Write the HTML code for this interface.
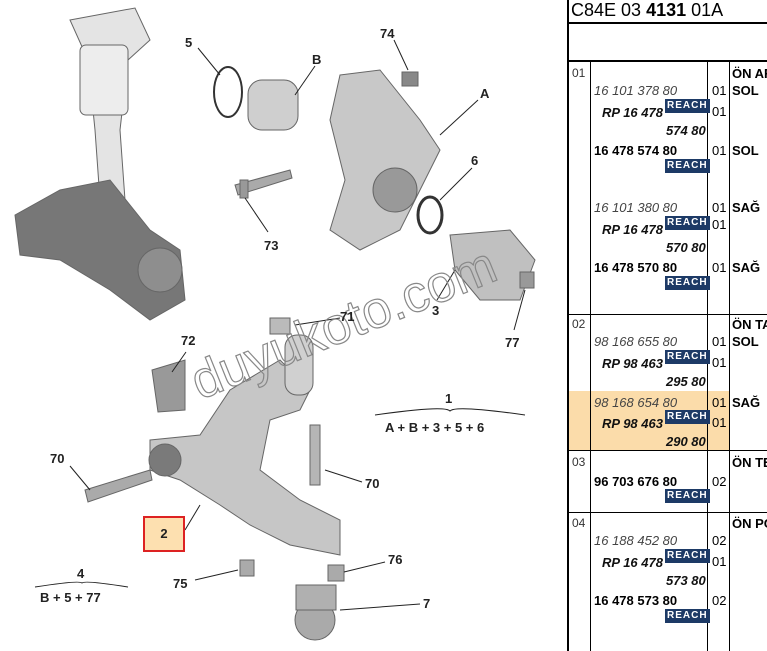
<!DOCTYPE html>
<html><head><meta charset="utf-8"><style>
body{margin:0;width:767px;height:651px;background:#fff;position:relative;overflow:hidden;font-family:"Liberation Sans",Arial,sans-serif}
.a{position:absolute;white-space:nowrap}
.l{font-weight:bold;font-size:13px;color:#222}
.t{font-size:13px;color:#000}
.i{font-style:italic;color:#444}
.bi{font-style:italic;font-weight:bold;color:#111}
.b{font-weight:bold}
.r{position:absolute;background:#1d3a66;color:#fff;font-weight:bold;font-size:10px;letter-spacing:1px;padding:1px 2px;line-height:12px}
.h{position:absolute;background:#000}
</style></head><body>
<svg class="a" style="left:0;top:0" width="560" height="651">
<g fill="#9a9a9a" stroke="#666" stroke-width="1">
<path d="M70 20 L135 8 L150 40 L128 60 L120 130 L125 200 L100 200 L95 130 L88 60 Z" fill="#e4e4e4"/>
<rect x="80" y="45" width="48" height="70" rx="6" fill="#ededed"/>
<path d="M15 215 L60 190 L110 180 L150 230 L180 250 L185 300 L150 320 L110 290 L60 260 L20 255 Z" fill="#777"/>
<circle cx="160" cy="270" r="22" fill="#8e8e8e"/>
<rect x="248" y="80" width="50" height="50" rx="14" fill="#cfcfcf"/>
<path d="M340 75 L380 70 L420 120 L440 150 L420 190 L400 230 L360 250 L330 230 L345 180 L330 120 Z" fill="#c8c8c8"/>
<circle cx="395" cy="190" r="22" fill="#999"/>
<ellipse cx="430" cy="215" rx="12" ry="18" fill="none" stroke="#333" stroke-width="3"/>
<path d="M450 235 L510 230 L535 260 L520 300 L480 300 L455 270 Z" fill="#c0c0c0"/>
<ellipse cx="228" cy="92" rx="14" ry="25" fill="none" stroke="#333" stroke-width="2"/>
<rect x="402" y="72" width="16" height="14" fill="#888"/>
<path d="M235 185 L290 170 L292 178 L238 195 Z" fill="#aaa"/>
<path d="M150 440 L200 435 L230 390 L280 360 L310 390 L300 410 L270 420 L260 470 L300 500 L340 520 L340 555 L290 545 L250 525 L220 505 L180 480 L150 470 Z" fill="#c6c6c6"/>
<circle cx="165" cy="460" r="16" fill="#7a7a7a"/>
<rect x="285" y="335" width="28" height="60" rx="12" fill="#d0d0d0"/>
<path d="M152 370 L185 360 L185 410 L158 412 Z" fill="#999"/>
<path d="M85 490 L150 470 L152 480 L88 502 Z" fill="#aaa"/>
<rect x="310" y="425" width="10" height="60" fill="#b5b5b5"/>
<circle cx="315" cy="620" r="20" fill="#aaa"/>
<rect x="296" y="585" width="40" height="25" fill="#b0b0b0"/>
<rect x="240" y="560" width="14" height="16" fill="#aaa"/>
<rect x="328" y="565" width="16" height="16" fill="#aaa"/>
<rect x="270" y="318" width="20" height="16" fill="#bbb"/>
<rect x="240" y="180" width="8" height="18" fill="#999"/>
<rect x="520" y="272" width="14" height="16" fill="#999"/>
</g>
<g stroke="#222" stroke-width="1" fill="none">
<line x1="198" y1="48" x2="220" y2="75"/><line x1="315" y1="66" x2="295" y2="95"/>
<line x1="394" y1="40" x2="408" y2="70"/><line x1="478" y1="100" x2="440" y2="135"/>
<line x1="472" y1="168" x2="440" y2="200"/><line x1="268" y1="232" x2="245" y2="198"/>
<line x1="437" y1="300" x2="455" y2="270"/><line x1="514" y1="330" x2="525" y2="290"/>
<line x1="340" y1="318" x2="295" y2="325"/><line x1="186" y1="352" x2="172" y2="372"/>
<line x1="70" y1="466" x2="90" y2="490"/><line x1="362" y1="482" x2="325" y2="470"/>
<line x1="185" y1="530" x2="200" y2="505"/><line x1="385" y1="562" x2="344" y2="572"/>
<line x1="195" y1="580" x2="238" y2="570"/><line x1="420" y1="604" x2="340" y2="610"/>
<path d="M375 415 Q445 405 450 411 Q455 405 525 415"/>
<path d="M35 587 Q80 580 82 583 Q84 580 128 587"/>
</g>
<text x="200" y="400" transform="rotate(-22 200 400)" font-size="52" fill="none" stroke="#888" stroke-width="1.2" font-family="Liberation Sans">duyukoto.com</text>
</svg>
<div class="a l" style="left:185px;top:35px">5</div>
<div class="a l" style="left:312px;top:52px">B</div>
<div class="a l" style="left:380px;top:26px">74</div>
<div class="a l" style="left:480px;top:86px">A</div>
<div class="a l" style="left:471px;top:153px">6</div>
<div class="a l" style="left:264px;top:238px">73</div>
<div class="a l" style="left:432px;top:303px">3</div>
<div class="a l" style="left:505px;top:335px">77</div>
<div class="a l" style="left:340px;top:309px">71</div>
<div class="a l" style="left:181px;top:333px">72</div>
<div class="a l" style="left:445px;top:391px">1</div>
<div class="a l" style="left:385px;top:420px">A + B + 3 + 5 + 6</div>
<div class="a l" style="left:50px;top:451px">70</div>
<div class="a l" style="left:365px;top:476px">70</div>
<div class="a l" style="left:143px;top:516px;width:38px;height:32px;border:2px solid #d22;background:#fde0b0;text-align:center;line-height:32px">2</div>
<div class="a l" style="left:388px;top:552px">76</div>
<div class="a l" style="left:77px;top:566px">4</div>
<div class="a l" style="left:40px;top:590px">B + 5 + 77</div>
<div class="a l" style="left:173px;top:576px">75</div>
<div class="a l" style="left:423px;top:596px">7</div>

<div class="a" style="left:567px;top:0;width:200px;height:651px">
<div class="a" style="left:0;top:391px;width:163px;height:59px;background:#fbdcaa"></div>
<div class="h" style="left:0;top:0;width:2px;height:651px"></div>
<div class="h" style="left:0;top:22px;width:200px;height:2px"></div>
<div class="h" style="left:0;top:60px;width:200px;height:2px"></div>
<div class="h" style="left:23px;top:62px;width:1px;height:589px"></div>
<div class="h" style="left:140px;top:62px;width:1px;height:589px"></div>
<div class="h" style="left:162px;top:62px;width:1px;height:589px"></div>
<div class="h" style="left:0;top:314px;width:200px;height:1px"></div>
<div class="h" style="left:0;top:450px;width:200px;height:1px"></div>
<div class="h" style="left:0;top:512px;width:200px;height:1px"></div>
<div class="a" style="left:4px;top:0;font-size:18px">C84E 03 <b>4131</b> 01A</div>
</div>
<div class="a t" style="left:0;top:0;width:767px">
<span class="a" style="left:572px;top:66px;font-size:12px;color:#333">01</span>
<span class="a b" style="left:732px;top:66px">ÖN AR</span>
<span class="a i" style="left:594px;top:83px">16 101 378 80</span><span class="a" style="left:712px;top:83px">01</span><span class="a b" style="left:732px;top:83px">SOL</span>
<span class="a bi" style="left:602px;top:105px">RP 16 478</span><span class="r" style="left:665px;top:99px">REACH</span><span class="a" style="left:712px;top:104px">01</span>
<span class="a bi" style="left:666px;top:123px">574 80</span>
<span class="a b" style="left:594px;top:143px">16 478 574 80</span><span class="a" style="left:712px;top:143px">01</span><span class="a b" style="left:732px;top:143px">SOL</span>
<span class="r" style="left:665px;top:159px">REACH</span>
<span class="a i" style="left:594px;top:200px">16 101 380 80</span><span class="a" style="left:712px;top:200px">01</span><span class="a b" style="left:732px;top:200px">SAĞ</span>
<span class="a bi" style="left:602px;top:222px">RP 16 478</span><span class="r" style="left:665px;top:216px">REACH</span><span class="a" style="left:712px;top:217px">01</span>
<span class="a bi" style="left:666px;top:240px">570 80</span>
<span class="a b" style="left:594px;top:260px">16 478 570 80</span><span class="a" style="left:712px;top:260px">01</span><span class="a b" style="left:732px;top:260px">SAĞ</span>
<span class="r" style="left:665px;top:276px">REACH</span>
<span class="a" style="left:572px;top:317px;font-size:12px;color:#333">02</span><span class="a b" style="left:732px;top:317px">ÖN TA</span>
<span class="a i" style="left:594px;top:334px">98 168 655 80</span><span class="a" style="left:712px;top:334px">01</span><span class="a b" style="left:732px;top:334px">SOL</span>
<span class="a bi" style="left:602px;top:356px">RP 98 463</span><span class="r" style="left:665px;top:350px">REACH</span><span class="a" style="left:712px;top:355px">01</span>
<span class="a bi" style="left:666px;top:374px">295 80</span>
<span class="a i" style="left:594px;top:395px">98 168 654 80</span><span class="a" style="left:712px;top:395px">01</span><span class="a b" style="left:732px;top:395px">SAĞ</span>
<span class="a bi" style="left:602px;top:416px">RP 98 463</span><span class="r" style="left:665px;top:410px">REACH</span><span class="a" style="left:712px;top:415px">01</span>
<span class="a bi" style="left:666px;top:434px">290 80</span>
<span class="a" style="left:572px;top:455px;font-size:12px;color:#333">03</span><span class="a b" style="left:732px;top:455px">ÖN TE</span>
<span class="a b" style="left:594px;top:474px">96 703 676 80</span><span class="a" style="left:712px;top:474px">02</span>
<span class="r" style="left:665px;top:489px">REACH</span>
<span class="a" style="left:572px;top:516px;font-size:12px;color:#333">04</span><span class="a b" style="left:732px;top:516px">ÖN PO</span>
<span class="a i" style="left:594px;top:533px">16 188 452 80</span><span class="a" style="left:712px;top:533px">02</span>
<span class="a bi" style="left:602px;top:555px">RP 16 478</span><span class="r" style="left:665px;top:549px">REACH</span><span class="a" style="left:712px;top:554px">01</span>
<span class="a bi" style="left:666px;top:573px">573 80</span>
<span class="a b" style="left:594px;top:593px">16 478 573 80</span><span class="a" style="left:712px;top:593px">02</span>
<span class="r" style="left:665px;top:609px">REACH</span>
</div>
</body></html>
